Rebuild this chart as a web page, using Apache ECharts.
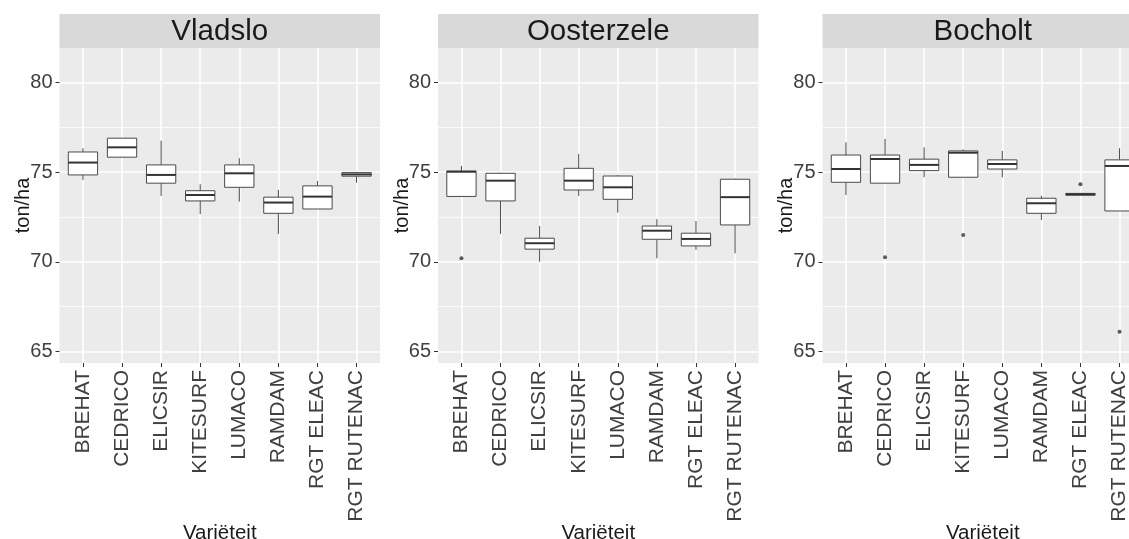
<!DOCTYPE html>
<html>
<head>
<meta charset="utf-8">
<script src="https://cdn.jsdelivr.net/npm/echarts@6/dist/echarts.min.js"></script>
<style>
html,body{margin:0;padding:0;background:#fff;}
#chart{width:1129px;height:539px;}
</style>
</head>
<body>
<div id="chart"></div>
<script>
// ---- data ----
const categories = ['BREHAT','CEDRICO','ELICSIR','KITESURF','LUMACO','RAMDAM','RGT ELEAC','RGT RUTENAC'];
const locations = ['Vladslo','Oosterzele','Bocholt'];
// [min, Q1, median, Q3, max] per category
const vladsloBoxes = [
  [74.57, 74.85, 75.54, 76.13, 76.34],
  [75.84, 75.84, 76.39, 76.90, 76.90],
  [73.68, 74.39, 74.85, 75.41, 76.76],
  [72.67, 73.40, 73.73, 73.97, 74.33],
  [73.36, 74.16, 74.94, 75.41, 75.78],
  [71.56, 72.71, 73.31, 73.61, 74.01],
  [72.95, 72.95, 73.64, 74.24, 74.51],
  [74.42, 74.78, 74.88, 74.98, 75.02]
];
const oosterzeleBoxes = [
  [73.65, 73.65, 75.03, 75.06, 75.35],
  [71.56, 73.40, 74.53, 74.94, 74.97],
  [70.01, 70.71, 71.04, 71.32, 72.00],
  [73.68, 74.01, 74.53, 75.22, 76.02],
  [72.75, 73.49, 74.16, 74.79, 74.85],
  [70.20, 71.26, 71.74, 72.00, 72.38],
  [70.67, 70.89, 71.28, 71.60, 72.28],
  [70.48, 72.06, 73.61, 74.61, 74.65]
];
const bocholtBoxes = [
  [73.73, 74.44, 75.18, 75.96, 76.67],
  [74.39, 74.39, 75.74, 75.96, 76.86],
  [74.72, 75.09, 75.41, 75.73, 76.39],
  [74.72, 74.72, 76.09, 76.19, 76.28],
  [74.72, 75.18, 75.46, 75.69, 76.19],
  [72.34, 72.71, 73.27, 73.55, 73.68],
  [73.72, 73.72, 73.77, 73.82, 73.82],
  [72.84, 72.84, 75.35, 75.69, 76.34]
];
// outliers: [category number (1-based), value]
const vladsloOutliers = [];
const oosterzeleOutliers = [[1, 70.20]];
const bocholtOutliers = [[2, 70.26], [4, 71.50], [7, 74.33], [8, 66.11]];
const yTicks = [65, 70, 75, 80];
const yMinorTicks = [67.5, 72.5, 77.5];
const xTicks = [1, 2, 3, 4, 5, 6, 7, 8];

const allBoxes = [vladsloBoxes, oosterzeleBoxes, bocholtBoxes];
const allOutliers = [vladsloOutliers, oosterzeleOutliers, bocholtOutliers];

// ---- layout ----
const FONT = '"Liberation Sans", Arial, sans-serif';
const panels = [{left: 59.5}, {left: 438}, {left: 822.5}];
const PW = 320.5, PT = 48, PH = 315;
const STRIP_TOP = 14, STRIP_H = 34;
const YMIN = 64.36, YMAX = 81.93;

function renderBox(params, api) {
  const x = api.value(0);
  const lo = api.coord([x, api.value(1)]);
  const q1 = api.coord([x, api.value(2)]);
  const md = api.coord([x, api.value(3)]);
  const q3 = api.coord([x, api.value(4)]);
  const hi = api.coord([x, api.value(5)]);
  const bw = api.size([1, 0])[0] * 0.75;
  const cx = lo[0];
  const ls = {stroke: '#4a4a4a', lineWidth: 1};
  return {
    type: 'group',
    children: [
      {type: 'line', shape: {x1: cx, y1: hi[1], x2: cx, y2: q3[1]}, style: ls},
      {type: 'line', shape: {x1: cx, y1: q1[1], x2: cx, y2: lo[1]}, style: ls},
      {type: 'rect', shape: {x: cx - bw / 2, y: q3[1], width: bw, height: q1[1] - q3[1]},
        style: {fill: '#ffffff', stroke: '#4a4a4a', lineWidth: 1}},
      {type: 'line', shape: {x1: cx - bw / 2, y1: md[1], x2: cx + bw / 2, y2: md[1]},
        style: {stroke: '#333333', lineWidth: 2}}
    ]
  };
}

const grid = [], xAxis = [], yAxis = [], series = [], graphic = [];
panels.forEach((p, i) => {
  grid.push({left: p.left, top: PT, width: PW, height: PH, show: true,
    backgroundColor: '#EBEBEB', borderWidth: 0, containLabel: false,
    outerBoundsMode: 'none'});
  xAxis.push({
    type: 'value', gridIndex: i, min: 0.4, max: 8.6,
    name: 'Variëteit', nameLocation: 'middle', nameGap: 160, nameMoveOverlap: false,
    nameTextStyle: {fontFamily: FONT, fontSize: 20.5, color: '#1a1a1a'},
    axisLine: {show: false},
    axisTick: {show: true, length: 4, customValues: xTicks, lineStyle: {color: '#333'}},
    axisLabel: {show: true, customValues: xTicks, rotate: 90, margin: 7,
      fontFamily: FONT, fontSize: 21, color: '#404040',
      formatter: v => categories[Math.round(v) - 1] || ''},
    splitLine: {show: true, customValues: xTicks, lineStyle: {color: '#ffffff', width: 1.6}}
  });
  yAxis.push({
    type: 'value', gridIndex: i, min: YMIN, max: YMAX,
    name: 'ton/ha', nameLocation: 'middle', nameGap: 26, nameMoveOverlap: false,
    nameTextStyle: {fontFamily: FONT, fontSize: 20, color: '#1a1a1a'},
    axisLine: {show: false},
    axisTick: {show: true, length: 4, customValues: yTicks, lineStyle: {color: '#333'}},
    axisLabel: {show: true, customValues: yTicks, margin: 7,
      fontFamily: FONT, fontSize: 20, color: '#404040'},
    splitLine: {show: true, customValues: yTicks, lineStyle: {color: '#ffffff', width: 1.6}}
  });
  yAxis.push({
    type: 'value', gridIndex: i, min: YMIN, max: YMAX,
    axisLine: {show: false},
    axisTick: {show: false, customValues: yMinorTicks},
    axisLabel: {show: false, customValues: yMinorTicks},
    splitLine: {show: true, customValues: yMinorTicks, lineStyle: {color: '#ffffff', width: 0.8}}
  });
  series.push({
    type: 'custom', xAxisIndex: i, yAxisIndex: i * 2,
    renderItem: renderBox,
    encode: {x: 0, y: [1, 2, 3, 4, 5]},
    data: allBoxes[i].map((b, k) => [k + 1].concat(b)),
    z: 3, silent: true
  });
  series.push({
    type: 'scatter', xAxisIndex: i, yAxisIndex: i * 2,
    symbol: 'circle', symbolSize: 4,
    itemStyle: {color: '#333333'},
    data: allOutliers[i], z: 4, silent: true
  });
  graphic.push({type: 'rect', left: p.left, top: STRIP_TOP, z: 0,
    shape: {width: PW, height: STRIP_H}, style: {fill: '#D9D9D9'}, silent: true});
  graphic.push({type: 'text', x: p.left + PW / 2, y: STRIP_TOP + STRIP_H / 2 + 1, z: 1,
    style: {text: locations[i], textAlign: 'center', textVerticalAlign: 'middle',
      fontFamily: FONT, fontSize: 29.5, fill: '#1a1a1a'}, silent: true});
});

const chart = echarts.init(document.getElementById('chart'), null, {renderer: 'canvas'});
chart.setOption({
  animation: false,
  backgroundColor: '#ffffff',
  grid, xAxis, yAxis, series, graphic
});
</script>
</body>
</html>
